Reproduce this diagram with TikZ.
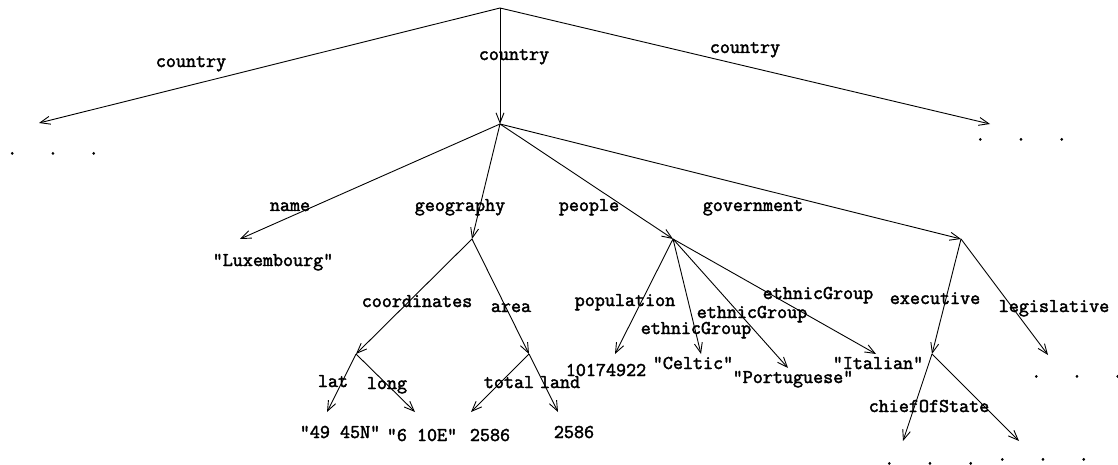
\documentclass[tikz,border=0pt]{standalone}
\usepackage{fontspec}
\newfontfamily\cour[FakeBold=2.2]{Latin Modern Mono}
\usetikzlibrary{arrows.meta}
\begin{document}
\begin{tikzpicture}[x=1pt,y=-1pt,
  edge/.style={draw, line width=0.9pt, -{Straight Barb[length=10pt,width=8pt,line width=0.9pt]}},
  lbl/.style={anchor=base, yshift=-5pt, inner sep=0pt, font=\cour\fontsize{19.5}{22}\selectfont},
  dots/.style={anchor=base, yshift=-1.5pt, inner sep=0pt, font=\cour\fontsize{19.5}{22}\selectfont}]
\useasboundingbox (0,0) rectangle (1118,465);
% branching points
\coordinate (root) at (500,8);
\coordinate (C) at (500,124);
\coordinate (G) at (472,239);
\coordinate (P) at (673,239);
\coordinate (Gv) at (961,239);
\coordinate (Co) at (356,354);
\coordinate (A) at (529,354);
\coordinate (E) at (932,354);
% free ends
\coordinate (L1) at (39,123);
\coordinate (R1) at (990,124);
\coordinate (nameT) at (240,239);
\coordinate (latT) at (327,412);
\coordinate (longT) at (415,412);
\coordinate (totalT) at (471,412);
\coordinate (landT) at (558,412);
\coordinate (popT) at (615,354);
\coordinate (celT) at (701,354);
\coordinate (porT) at (788,368);
\coordinate (itaT) at (876,354);
\coordinate (legT) at (1048,355);
\coordinate (chL) at (903,441);
\coordinate (chR) at (1019,441);
% edges
\draw[edge] (root) -- (L1);
\draw[edge] (root) -- (C);
\draw[edge] (root) -- (R1);
\draw[edge] (C) -- (nameT);
\draw[edge] (C) -- (G);
\draw[edge] (C) -- (P);
\draw[edge] (C) -- (Gv);
\draw[edge] (G) -- (Co);
\draw[edge] (G) -- (A);
\draw[edge] (Co) -- (latT);
\draw[edge] (Co) -- (longT);
\draw[edge] (A) -- (totalT);
\draw[edge] (A) -- (landT);
\draw[edge] (P) -- (popT);
\draw[edge] (P) -- (celT);
\draw[edge] (P) -- (porT);
\draw[edge] (P) -- (itaT);
\draw[edge] (Gv) -- (E);
\draw[edge] (Gv) -- (legT);
\draw[edge] (E) -- (chL);
\draw[edge] (E) -- (chR);
% edge labels
\node[lbl] (lc1) at (191,62) {country};
\node[lbl] (lc2) at (514,55) {country};
\node[lbl] (lc3) at (745,48) {country};
\node[lbl] (lname) at (290,206) {name};
\node[lbl] (lgeo) at (460,206) {geography};
\node[lbl] (lpeo) at (589,206) {people};
\node[lbl] (lgov) at (753,206) {government};
\node[lbl] (lcoo) at (417,302) {coordinates};
\node[lbl] (lare) at (511,307) {area};
\node[lbl] (llat) at (333,382) {lat};
\node[lbl] (llon) at (387,384) {long};
\node[lbl] (ltot) at (509,383) {total};
\node[lbl] (llan) at (560,383) {land};
\node[lbl] (lpop) at (625,301) {population};
\node[lbl] (leth1) at (696,329) {ethnicGroup};
\node[lbl] (leth2) at (752,313) {ethnicGroup};
\node[lbl] (leth3) at (818,294) {ethnicGroup};
\node[lbl] (lexe) at (935,299) {executive};
\node[lbl] (lleg) at (1054,307) {legislative};
\node[lbl] (lchi) at (929,407) {chiefOfState};
% values
\node[lbl] (vlux) at (273,261) {"Luxembourg"};
\node[lbl] (vlat) at (340,433) {"49 45N"};
\node[lbl] (vlon) at (422,436) {"6 10E"};
\node[lbl] (vtot) at (490,436) {2586};
\node[lbl] (vlan) at (574,433) {2586};
\node[lbl] (vpop) at (606,371) {10174922};
\node[lbl] (vcel) at (693,364) {"Celtic"};
\node[lbl] (vpor) at (793,378) {"Portuguese"};
\node[lbl] (vita) at (878,364) {"Italian"};
% ellipses
\node[dots] (d1) at (53,153) {.\hspace{1.575em}.\hspace{1.575em}.};
\node[dots] (d2) at (1021,139) {.\hspace{1.575em}.\hspace{1.575em}.};
\node[dots] (d3) at (1077,376) {.\hspace{1.575em}.\hspace{1.575em}.};
\node[dots] (d4) at (930,463) {.\hspace{1.575em}.\hspace{1.575em}.};
\node[dots] (d5) at (1043,459) {.\hspace{1.575em}.\hspace{1.575em}.};
\end{tikzpicture}
\end{document}
